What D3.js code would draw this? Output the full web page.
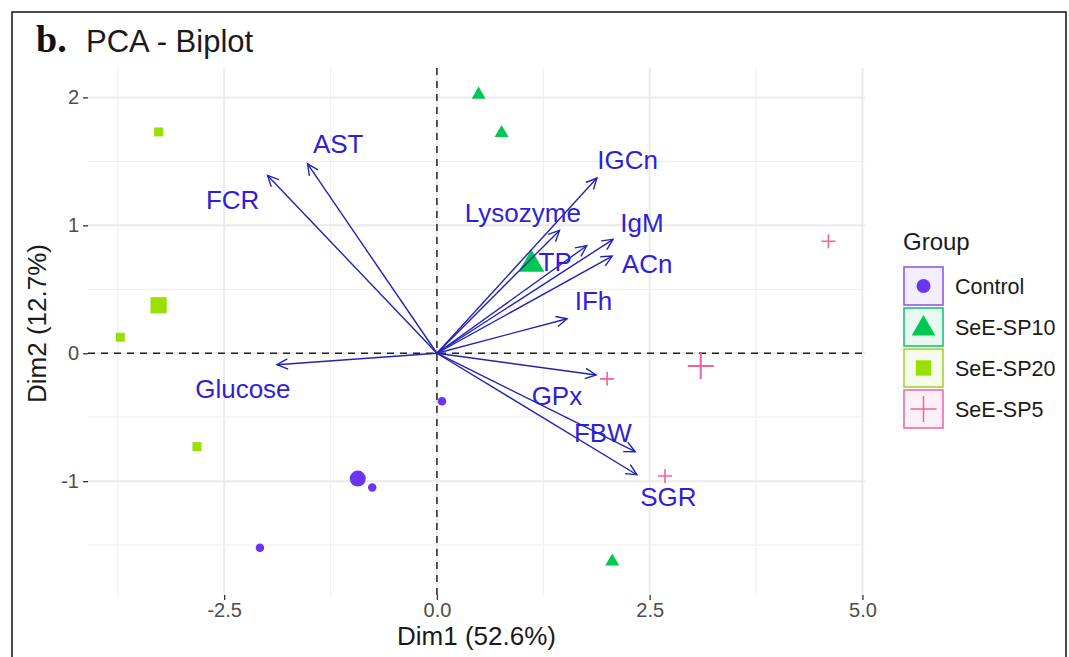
<!DOCTYPE html>
<html>
<head>
<meta charset="utf-8">
<script src="https://cdn.jsdelivr.net/npm/d3@7/dist/d3.min.js"></script>
<style>
  body { margin: 0; background: #fff; }
  text { font-family: "Liberation Sans", Arial, sans-serif; }
</style>
</head>
<body>
<main></main>
<script>
const width = 1069;
const height = 657;

// individuals (Dim1, Dim2)
const groups = ["Control", "SeE-SP10", "SeE-SP20", "SeE-SP5"];
const colors = ["#6a36f2", "#00c853", "#98e000", "#f2609e"];
const keyBorders = ["#8a5cf0", "#19c27a", "#a8d030", "#f06aa8"];

const controlPts = [[0.06, -0.375], [-0.76, -1.05], [-2.08, -1.52]];
const sp10Pts = [[0.49, 2.03], [0.76, 1.73], [2.06, -1.62]];
const sp20Pts = [[-3.27, 1.73], [-3.72, 0.125], [-2.82, -0.73]];
const sp5Pts = [[4.6, 0.875], [2.0, -0.2], [2.68, -0.96]];
const groupMeans = [[-0.93, -0.98], [1.11, 0.71], [-3.27, 0.375], [3.1, -0.1]];

// variables (arrow tips and label spots)
const varNames = ["AST", "FCR", "Glucose", "IGCn", "Lysozyme", "IgM", "TP", "ACn", "IFh", "GPx", "FBW", "SGR"];
const varTips = [[-1.52, 1.48], [-1.99, 1.39], [-1.88, -0.09], [1.88, 1.37], [1.44, 0.96], [2.07, 0.89],
                 [1.76, 0.84], [2.06, 0.76], [1.53, 0.27], [1.87, -0.17], [2.33, -0.77], [2.35, -0.95]];
const varLabels = [[-1.16, 1.64], [-2.40, 1.20], [-2.28, -0.28], [2.24, 1.51], [1.01, 1.10], [2.41, 1.02],
                   [1.39, 0.72], [2.47, 0.70], [1.84, 0.41], [1.41, -0.33], [1.95, -0.62], [2.72, -1.12]];

const xTicks = [-2.5, 0, 2.5, 5];
const xMinor = [-3.75, -1.25, 1.25, 3.75];
const yTicks = [-1, 0, 1, 2];
const yMinor = [-1.5, -0.5, 0.5, 1.5];

const panel = {left: 88, right: 865, top: 68, bottom: 595};

const x = d3.scaleLinear().domain([-4.1, 5.03]).range([panel.left, panel.right]);
const y = d3.scaleLinear().domain([-1.89, 2.23]).range([panel.bottom, panel.top]);

const svg = d3.select('main').append('svg')
  .attr('width', width)
  .attr('height', height);

svg.append('rect').attr('width', width).attr('height', height).attr('fill', '#fff');

// outer frame
svg.append('rect')
  .attr('x', 12).attr('y', 12)
  .attr('width', 1054).attr('height', 700)
  .attr('fill', 'none').attr('stroke', '#111').attr('stroke-width', 1.5);

// title
svg.append('text').attr('x', 36).attr('y', 52)
  .style('font-family', '"Liberation Serif", "DejaVu Serif", serif')
  .style('font-weight', 'bold').style('font-size', '38px').style('fill', '#111')
  .text('b.');
svg.append('text').attr('x', 86).attr('y', 52)
  .style('font-size', '31px').style('fill', '#1a1a1a')
  .text('PCA - Biplot');

// grid
const grid = svg.append('g');
grid.selectAll('.xminor').data(xMinor).enter().append('line')
  .attr('x1', d => x(d)).attr('x2', d => x(d))
  .attr('y1', panel.top).attr('y2', panel.bottom)
  .style('stroke', '#f0f0f0').style('stroke-width', 1.2);
grid.selectAll('.yminor').data(yMinor).enter().append('line')
  .attr('y1', d => y(d)).attr('y2', d => y(d))
  .attr('x1', panel.left).attr('x2', panel.right)
  .style('stroke', '#f0f0f0').style('stroke-width', 1.2);
grid.selectAll('.xmajor').data(xTicks).enter().append('line')
  .attr('x1', d => x(d)).attr('x2', d => x(d))
  .attr('y1', panel.top).attr('y2', panel.bottom)
  .style('stroke', '#ebebeb').style('stroke-width', 2);
grid.selectAll('.ymajor').data(yTicks).enter().append('line')
  .attr('y1', d => y(d)).attr('y2', d => y(d))
  .attr('x1', panel.left).attr('x2', panel.right)
  .style('stroke', '#ebebeb').style('stroke-width', 2);

// axes (ascii hyphen for negatives, as in the source)
const fmtX = d => d3.format('.1f')(d).replace('\u2212', '-');
const fmtY = d => d3.format('d')(d).replace('\u2212', '-');
const xAxis = svg.append('g')
  .attr('transform', `translate(0,${panel.bottom})`)
  .call(d3.axisBottom(x).tickValues(xTicks).tickSize(5).tickPadding(3).tickFormat(fmtX));
const yAxis = svg.append('g')
  .attr('transform', `translate(${panel.left},0)`)
  .call(d3.axisLeft(y).tickValues(yTicks).tickSize(5).tickPadding(4).tickFormat(fmtY));
[xAxis, yAxis].forEach(a => {
  a.select('.domain').remove();
  a.selectAll('line').style('stroke', '#333').style('stroke-width', 1.3);
  a.selectAll('text').style('font-size', '20px').style('fill', '#4d4d4d')
    .style('font-family', '"Liberation Sans", Arial, sans-serif');
});

svg.append('text')
  .attr('x', (panel.left + panel.right) / 2).attr('y', 645)
  .attr('text-anchor', 'middle')
  .style('font-size', '26px').style('fill', '#1a1a1a')
  .text('Dim1 (52.6%)');
svg.append('text')
  .attr('transform', `translate(46,${(panel.top + panel.bottom) / 2 - 8}) rotate(-90)`)
  .attr('text-anchor', 'middle')
  .style('font-size', '26px').style('fill', '#1a1a1a')
  .text('Dim2 (12.7%)');

// zero lines
svg.append('line')
  .attr('x1', x(0)).attr('x2', x(0)).attr('y1', panel.top).attr('y2', panel.bottom)
  .style('stroke', '#222').style('stroke-width', 1.5).style('stroke-dasharray', '7,6');
svg.append('line')
  .attr('y1', y(0)).attr('y2', y(0)).attr('x1', panel.left).attr('x2', panel.right)
  .style('stroke', '#222').style('stroke-width', 1.5).style('stroke-dasharray', '7,6');

// symbols
const shapeFns = [
  (g, s) => g.append('circle').attr('r', s * 0.5),
  (g, s) => g.append('path').attr('d', d3.symbol(d3.symbolTriangle, s * s * 0.5)()).attr('transform', `translate(0,${s * 0.08})`),
  (g, s) => g.append('rect').attr('x', -s * 0.45).attr('y', -s * 0.45).attr('width', s * 0.9).attr('height', s * 0.9),
  (g, s) => g.append('path').attr('d', `M${-s},0H${s}M0,${-s}V${s}`)
];

function drawPoint(gi, p, size) {
  const g = svg.append('g').attr('transform', `translate(${x(p[0])},${y(p[1])})`);
  const el = shapeFns[gi](g, size);
  if (gi === 3) el.style('fill', 'none').style('stroke', colors[gi]).style('stroke-width', size > 8 ? 2 : 1.6);
  else el.style('fill', colors[gi]);
}

const allPts = [controlPts, sp10Pts, sp20Pts, sp5Pts];
const smallSize = [8.5, 13, 10, 7];
const bigSize = [16, 24, 18, 13];
allPts.forEach((pts, gi) => pts.forEach(p => drawPoint(gi, p, smallSize[gi])));
groupMeans.forEach((p, gi) => drawPoint(gi, p, bigSize[gi]));

// variable arrows
const arrowColor = '#2222b4';
const arrows = svg.append('g');
varTips.forEach((t, i) => {
  const x0 = x(0), y0 = y(0), x1 = x(t[0]), y1 = y(t[1]);
  const ang = Math.atan2(y1 - y0, x1 - x0);
  const hl = 12, ha = Math.PI / 7;
  arrows.append('line')
    .attr('x1', x0).attr('y1', y0).attr('x2', x1).attr('y2', y1)
    .style('stroke', arrowColor).style('stroke-width', 1.4);
  arrows.append('path')
    .attr('d', `M${x1 - hl * Math.cos(ang - ha)},${y1 - hl * Math.sin(ang - ha)}L${x1},${y1}L${x1 - hl * Math.cos(ang + ha)},${y1 - hl * Math.sin(ang + ha)}`)
    .style('fill', 'none').style('stroke', arrowColor).style('stroke-width', 1.4);
});

svg.append('g').selectAll('text').data(varNames).enter().append('text')
  .attr('x', (d, i) => x(varLabels[i][0]))
  .attr('y', (d, i) => y(varLabels[i][1]))
  .attr('text-anchor', 'middle').attr('dy', '0.36em')
  .style('font-size', '26px').style('fill', '#2f1fd6')
  .text(d => d);

// legend
const legend = svg.append('g').attr('transform', 'translate(903,0)');
legend.append('text').attr('x', 0).attr('y', 250)
  .style('font-size', '24px').style('fill', '#1a1a1a').text('Group');
groups.forEach((gname, gi) => {
  const cy = 286 + gi * 41;
  legend.append('rect').attr('x', 1).attr('y', cy - 19).attr('width', 39).attr('height', 38)
    .style('fill', keyBorders[gi]).style('fill-opacity', 0.1)
    .style('stroke', keyBorders[gi]).style('stroke-width', 1.6);
  const g = legend.append('g').attr('transform', `translate(20.5,${cy})`);
  const el = shapeFns[gi](g, [14, 22, 17, 13][gi]);
  if (gi === 3) el.style('fill', 'none').style('stroke', colors[gi]).style('stroke-width', 1.5);
  else el.style('fill', colors[gi]);
  legend.append('text').attr('x', 52).attr('y', cy).attr('dy', '0.36em')
    .style('font-size', '21.5px').style('fill', '#1a1a1a').text(gname);
});
</script>
</body>
</html>
